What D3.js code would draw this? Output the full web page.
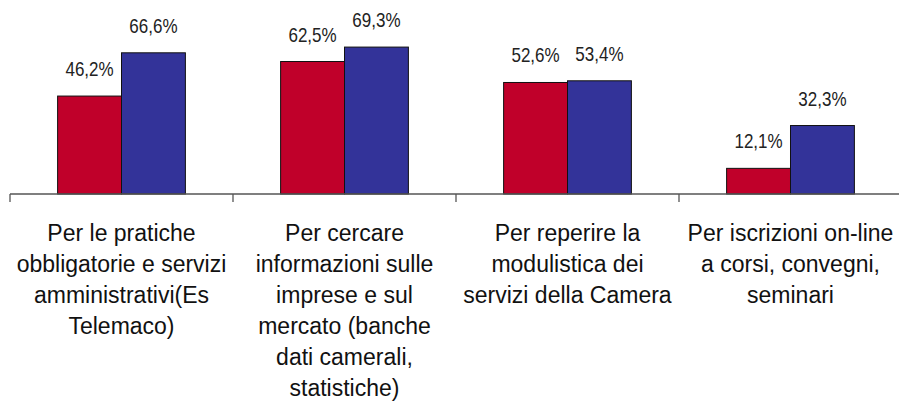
<!DOCTYPE html>
<html>
<head>
<meta charset="utf-8">
<script src="https://cdn.jsdelivr.net/npm/d3@7/dist/d3.min.js"></script>
<style>
  html, body { margin: 0; padding: 0; background: #ffffff; }
  svg { display: block; }
</style>
</head>
<body>
<svg id="chart" width="899" height="403"></svg>
<script>
// Categories (each label split into its display lines)
const categories = [
  "Per le pratiche|obbligatorie e servizi|amministrativi(Es|Telemaco)",
  "Per cercare|informazioni sulle|imprese e sul|mercato (banche|dati camerali,|statistiche)",
  "Per reperire la|modulistica dei|servizi della Camera",
  "Per iscrizioni on-line|a corsi, convegni,|seminari"
];
const seriesNames = ["Serie A", "Serie B"];
const seriesA = [46.2, 62.5, 52.6, 12.1];
const seriesB = [66.6, 69.3, 53.4, 32.3];
const seriesColors = ["#C0002A", "#333399"];

const fmt = v => v.toFixed(1).replace(".", ",") + "%";

const svg = d3.select("#chart");

const baseY = 194;
const x0 = d3.scaleBand().domain(d3.range(categories.length)).range([10, 902]).padding(0);
const groupW = x0.bandwidth() * 0.573;
const x1 = d3.scaleBand().domain(seriesNames).range([0, groupW]).padding(0);
const y = d3.scaleLinear().domain([0, 70]).range([baseY, baseY - 148.4]);

const rows = categories.map((c, i) => ({ i, values: [seriesA[i], seriesB[i]] }));

const groups = svg.append("g").selectAll("g")
  .data(rows).join("g")
  .attr("transform", d => `translate(${x0(d.i) + (x0.bandwidth() - groupW) / 2},0)`);

groups.selectAll("rect")
  .data(d => d.values.map((v, k) => ({ v, k })))
  .join("rect")
  .attr("x", d => x1(seriesNames[d.k]))
  .attr("y", d => y(d.v))
  .attr("width", x1.bandwidth())
  .attr("height", d => y(0) - y(d.v))
  .attr("fill", d => seriesColors[d.k])
  .attr("stroke", "#111")
  .attr("stroke-width", 1);

// Value labels in a narrow face (horizontally condensed sans)
groups.selectAll("g.val")
  .data(d => d.values.map((v, k) => ({ v, k })))
  .join("g")
  .attr("class", "val")
  .attr("transform", d => `translate(${x1(seriesNames[d.k]) + x1.bandwidth() / 2},${y(d.v) - 20}) scale(0.85,1)`)
  .append("text")
  .attr("text-anchor", "middle")
  .attr("font-family", "'Liberation Sans', Arial, sans-serif")
  .attr("font-size", 20)
  .attr("fill", "#222")
  .text(d => fmt(d.v));

// Category axis: baseline plus separators between categories
const axisG = svg.append("g").attr("transform", `translate(0,${baseY})`);
axisG.append("line")
  .attr("x1", 10).attr("x2", 902)
  .attr("y1", 0).attr("y2", 0)
  .attr("stroke", "#555").attr("stroke-width", 1.3);
axisG.selectAll("line.tick")
  .data(d3.range(categories.length + 1))
  .join("line")
  .attr("class", "tick")
  .attr("x1", i => i < categories.length ? x0(i) : x0(i - 1) + x0.bandwidth())
  .attr("x2", i => i < categories.length ? x0(i) : x0(i - 1) + x0.bandwidth())
  .attr("y1", 0).attr("y2", 8)
  .attr("stroke", "#555").attr("stroke-width", 1.3);

const labels = svg.append("g").selectAll("text")
  .data(rows).join("text")
  .attr("text-anchor", "middle")
  .attr("font-family", "'Liberation Sans', Arial, sans-serif")
  .attr("font-size", 23)
  .attr("fill", "#111");

labels.each(function(d) {
  const t = d3.select(this);
  categories[d.i].split("|").forEach((line, j) => {
    t.append("tspan")
      .attr("x", x0(d.i) + x0.bandwidth() / 2)
      .attr("y", 241 + j * 31)
      .text(line);
  });
});
</script>
</body>
</html>
